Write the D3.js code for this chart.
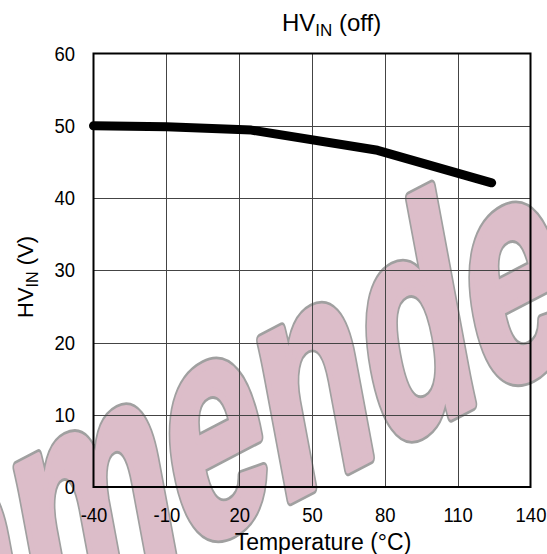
<!DOCTYPE html>
<html>
<head>
<meta charset="utf-8">
<script src="https://cdn.jsdelivr.net/npm/d3@7"></script>
<style>
  body { margin: 0; background: #fff; }
  svg { display: block; font-family: "Liberation Sans", Arial, sans-serif; }
</style>
</head>
<body>
<div id="chart"></div>
<script>
// HVin (off) vs temperature

// data
var temps = [-40, -10, 25, 77, 124];
var hvinOff = [50.0, 49.85, 49.4, 46.6, 42.1];
var xTicks = [-40, -10, 20, 50, 80, 110, 140];
var yTicks = [0, 10, 20, 30, 40, 50, 60];

var width = 547, height = 554;
var plotLeft = 93.5, plotRight = 530.5, plotTop = 53.5, plotBottom = 487;

var svg = d3.select("#chart")
    .append("svg")
    .attr("width", width)
    .attr("height", height);

var x = d3.scaleLinear().domain([-40, 140]).range([plotLeft, plotRight]);
var y = d3.scaleLinear().domain([0, 60]).range([plotBottom, plotTop]);

// Watermark (drawn first, everything sits on top)
// two layers: grey outline underneath, pink on top to make the letters heavier
var mark = svg.append("g")
    .attr("transform", "translate(-527,925) matrix(0.887,-0.462,0.295,1.583,0,0)");
[["#a0a0a0", 8.5], ["#dcbdc9", 5]].forEach(function (s) {
    mark.append("text")
        .attr("x", 0)
        .attr("y", 0)
        .text("Recommended")
        .attr("font-size", "190px")
        .attr("font-weight", "bold")
        .attr("fill", "#dcbdc9")
        .attr("stroke", s[0])
        .attr("stroke-width", s[1])
        .attr("stroke-linejoin", "round");
});

// Grid lines
svg.append("g")
    .selectAll("line")
    .data(xTicks.slice(1, -1))
    .enter()
    .append("line")
    .attr("x1", d => Math.round(x(d)) + 0.5)
    .attr("x2", d => Math.round(x(d)) + 0.5)
    .attr("y1", plotTop)
    .attr("y2", plotBottom)
    .attr("stroke", "#444")
    .attr("stroke-width", 1);

svg.append("g")
    .selectAll("line")
    .data(yTicks.slice(1, -1))
    .enter()
    .append("line")
    .attr("x1", plotLeft)
    .attr("x2", plotRight)
    .attr("y1", d => Math.round(y(d)) + 0.5)
    .attr("y2", d => Math.round(y(d)) + 0.5)
    .attr("stroke", "#444")
    .attr("stroke-width", 1);

// Plot frame
svg.append("rect")
    .attr("x", plotLeft)
    .attr("y", plotTop)
    .attr("width", plotRight - plotLeft)
    .attr("height", plotBottom - plotTop)
    .attr("fill", "none")
    .attr("stroke", "#000")
    .attr("stroke-width", 2);

// Axes (labels only, condensed digits like the reference)
var xAxis = svg.append("g")
    .attr("transform", "translate(0," + plotBottom + ")")
    .call(d3.axisBottom(x).tickValues(xTicks).tickSize(0).tickPadding(20)
        .tickFormat(d => String(d)));
xAxis.select(".domain").remove();
xAxis.selectAll("text")
    .attr("font-size", "21px")
    .attr("font-family", "Liberation Sans, Arial, sans-serif")
    .attr("fill", "#000")
    .attr("transform", "scale(0.88,1)");

var yAxis = svg.append("g")
    .attr("transform", "translate(" + plotLeft + ",0)")
    .call(d3.axisLeft(y).tickValues(yTicks).tickSize(0)
        .tickFormat(d => String(d)));
yAxis.select(".domain").remove();
yAxis.selectAll("text")
    .attr("x", -21)
    .attr("font-size", "21px")
    .attr("font-family", "Liberation Sans, Arial, sans-serif")
    .attr("fill", "#000")
    .attr("transform", "scale(0.88,1)");

// Data line
var line = d3.line()
    .x((d, i) => x(temps[i]))
    .y(d => y(d));

svg.append("path")
    .datum(hvinOff)
    .attr("d", line)
    .attr("fill", "none")
    .attr("stroke", "#000")
    .attr("stroke-width", 9)
    .attr("stroke-linecap", "round")
    .attr("stroke-linejoin", "round");

// Title
var title = svg.append("text")
    .attr("x", 331.5)
    .attr("y", 31)
    .attr("text-anchor", "middle")
    .attr("font-size", "24px");
title.append("tspan").text("HV");
title.append("tspan").text("IN").attr("font-size", "17px").attr("dy", 5);
title.append("tspan").text(" (off)").attr("dy", -5);

// X axis title
svg.append("text")
    .attr("x", 323)
    .attr("y", 550)
    .attr("text-anchor", "middle")
    .attr("font-size", "23px")
    .text("Temperature (°C)");

// Y axis title
var ytitle = svg.append("text")
    .attr("transform", "translate(33,277) rotate(-90)")
    .attr("text-anchor", "middle")
    .attr("font-size", "22px");
ytitle.append("tspan").text("HV");
ytitle.append("tspan").text("IN").attr("font-size", "16px").attr("dy", 5);
ytitle.append("tspan").text(" (V)").attr("dy", -5);
</script>
</body>
</html>
